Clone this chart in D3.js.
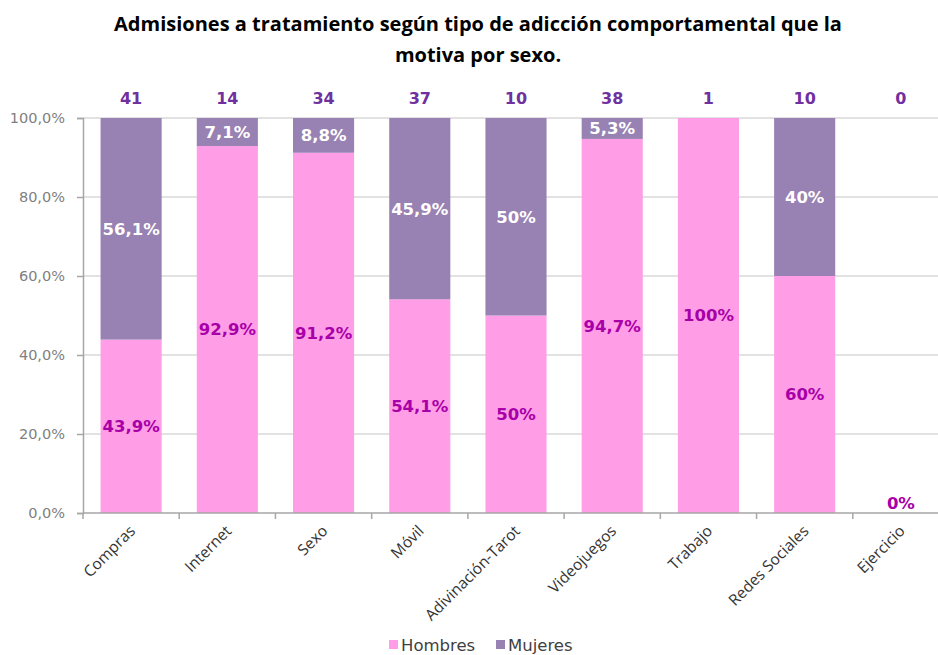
<!DOCTYPE html>
<html>
<head>
<meta charset="utf-8">
<script src="https://cdn.jsdelivr.net/npm/d3@7"></script>
<style>
  html, body { margin: 0; padding: 0; background: #fff; }
  svg { display: block; }
</style>
</head>
<body>
<svg id="chart" width="938" height="655"></svg>
<script>
// Categories and share (%) of admissions by sex, plus total admissions per category
const categories = ["Compras", "Internet", "Sexo", "Móvil", "Adivinación-Tarot", "Videojuegos", "Trabajo", "Redes Sociales", "Ejercicio"];
const hombres = [43.9, 92.9, 91.2, 54.1, 50, 94.7, 100, 60, 0];
const mujeres = [56.1, 7.1, 8.8, 45.9, 50, 5.3, 0, 40, 0];
const totals = [41, 14, 34, 37, 10, 38, 1, 10, 0];
const yTicks = [0, 20, 40, 60, 80, 100];
const seriesNames = ["Hombres", "Mujeres"];

const colors = { Hombres: "#ff9de6", Mujeres: "#9881b3" };

const svg = d3.select("#chart");
const plotLeft = 83, plotRight = 949, plotTop = 118, plotBottom = 513;

const x = d3.scaleBand().domain(categories).range([plotLeft, plotRight]).paddingInner(0.365).paddingOuter(0.1825);
const xEdge = d3.scaleBand().domain(categories).range([plotLeft, plotRight]);
const y = d3.scaleLinear().domain([0, 100]).range([plotBottom, plotTop]);

const fmtNum = v => (Number.isInteger(v) ? String(v) : v.toFixed(1).replace(".", ",")) + "%";

// Title
svg.append("text")
  .attr("x", 478).attr("y", 0)
  .attr("text-anchor", "middle")
  .style("font-family", "'Open Sans', Lato, sans-serif")
  .style("font-weight", "bold")
  .style("font-size", "20px")
  .style("fill", "#000")
  .selectAll("tspan")
  .data(["Admisiones a tratamiento según tipo de adicción comportamental que la", "motiva por sexo."])
  .join("tspan")
  .attr("x", 478)
  .attr("y", (d, i) => 31 + i * 31)
  .text(d => d);

// Gridlines
svg.append("g")
  .selectAll("line")
  .data(yTicks.filter(t => t > 0))
  .join("line")
  .attr("x1", plotLeft).attr("x2", 938)
  .attr("y1", d => y(d)).attr("y2", d => y(d))
  .attr("stroke", "#d9d9d9").attr("stroke-width", 1.5);

// Y axis
const yAxis = svg.append("g")
  .attr("transform", `translate(${plotLeft},0)`)
  .call(d3.axisLeft(y).tickValues(yTicks).tickSize(6).tickPadding(12)
    .tickFormat(d => d3.format(".1f")(d).replace(".", ",") + "%"));
yAxis.select(".domain").attr("stroke", "#a6a6a6").attr("stroke-width", 1.5);
yAxis.selectAll(".tick line").attr("stroke", "#a6a6a6").attr("stroke-width", 1.5);
yAxis.selectAll(".tick text")
  .style("font-family", "'DejaVu Sans', Verdana, sans-serif")
  .style("font-size", "14.5px")
  .style("fill", "#7f7f7f");

// Stacked bars
const rows = categories.map((c, i) => ({ cat: c, Hombres: hombres[i], Mujeres: mujeres[i], total: totals[i] }));
const stack = d3.stack().keys(seriesNames)(rows);

svg.append("g")
  .selectAll("g")
  .data(stack)
  .join("g")
  .attr("fill", d => colors[d.key])
  .selectAll("rect")
  .data(d => d)
  .join("rect")
  .attr("x", d => x(d.data.cat))
  .attr("width", x.bandwidth())
  .attr("y", d => y(d[1]))
  .attr("height", d => y(d[0]) - y(d[1]));

// X axis (baseline + ticks at category boundaries)
svg.append("line")
  .attr("x1", plotLeft).attr("x2", 938)
  .attr("y1", plotBottom).attr("y2", plotBottom)
  .attr("stroke", "#a6a6a6").attr("stroke-width", 1.5);
svg.append("g")
  .selectAll("line")
  .data(categories.map(c => xEdge(c)))
  .join("line")
  .attr("x1", d => d).attr("x2", d => d)
  .attr("y1", plotBottom).attr("y2", plotBottom + 6)
  .attr("stroke", "#a6a6a6").attr("stroke-width", 1.5);

// Category labels, rotated
svg.append("g")
  .selectAll("text")
  .data(categories)
  .join("text")
  .attr("transform", d => `translate(${x(d) + x.bandwidth() / 2 + 5},${plotBottom + 19}) rotate(-45)`)
  .attr("text-anchor", "end")
  .style("font-family", "'Open Sans', sans-serif")
  .style("font-size", "15.5px")
  .style("fill", "#333333")
  .text(d => d);

// Segment value labels
const labelFont = "'DejaVu Sans', Verdana, sans-serif";
stack.forEach(layer => {
  const isMen = layer.key === "Hombres";
  svg.append("g")
    .selectAll("text")
    .data(layer.filter(d => isMen || (d[1] - d[0]) > 0))
    .join("text")
    .attr("x", d => x(d.data.cat) + x.bandwidth() / 2)
    .attr("y", d => (d[1] - d[0]) > 0 ? y((d[0] + d[1]) / 2) : y(d[0]) - 10)
    .attr("dy", "0.36em")
    .attr("text-anchor", "middle")
    .style("font-family", labelFont)
    .style("font-weight", "bold")
    .style("font-size", "16.5px")
    .style("fill", isMen ? "#a800a8" : "#ffffff")
    .text(d => fmtNum(d.data[layer.key]));
});

// Totals above bars
svg.append("g")
  .selectAll("text")
  .data(rows)
  .join("text")
  .attr("x", d => x(d.cat) + x.bandwidth() / 2)
  .attr("y", 98)
  .attr("dy", "0.36em")
  .attr("text-anchor", "middle")
  .style("font-family", labelFont)
  .style("font-weight", "bold")
  .style("font-size", "16px")
  .style("fill", "#7030a0")
  .text(d => d.total);

// Legend
const legend = svg.append("g");
const legendX = [389, 496];
seriesNames.forEach((name, i) => {
  legend.append("rect")
    .attr("x", legendX[i]).attr("y", 640)
    .attr("width", 9).attr("height", 9)
    .attr("fill", colors[name]);
  legend.append("text")
    .attr("x", legendX[i] + 12).attr("y", 645)
    .attr("dy", "0.36em")
    .style("font-family", "'DejaVu Sans', sans-serif")
    .style("font-size", "16.5px")
    .style("fill", "#404040")
    .text(name);
});
</script>
</body>
</html>
